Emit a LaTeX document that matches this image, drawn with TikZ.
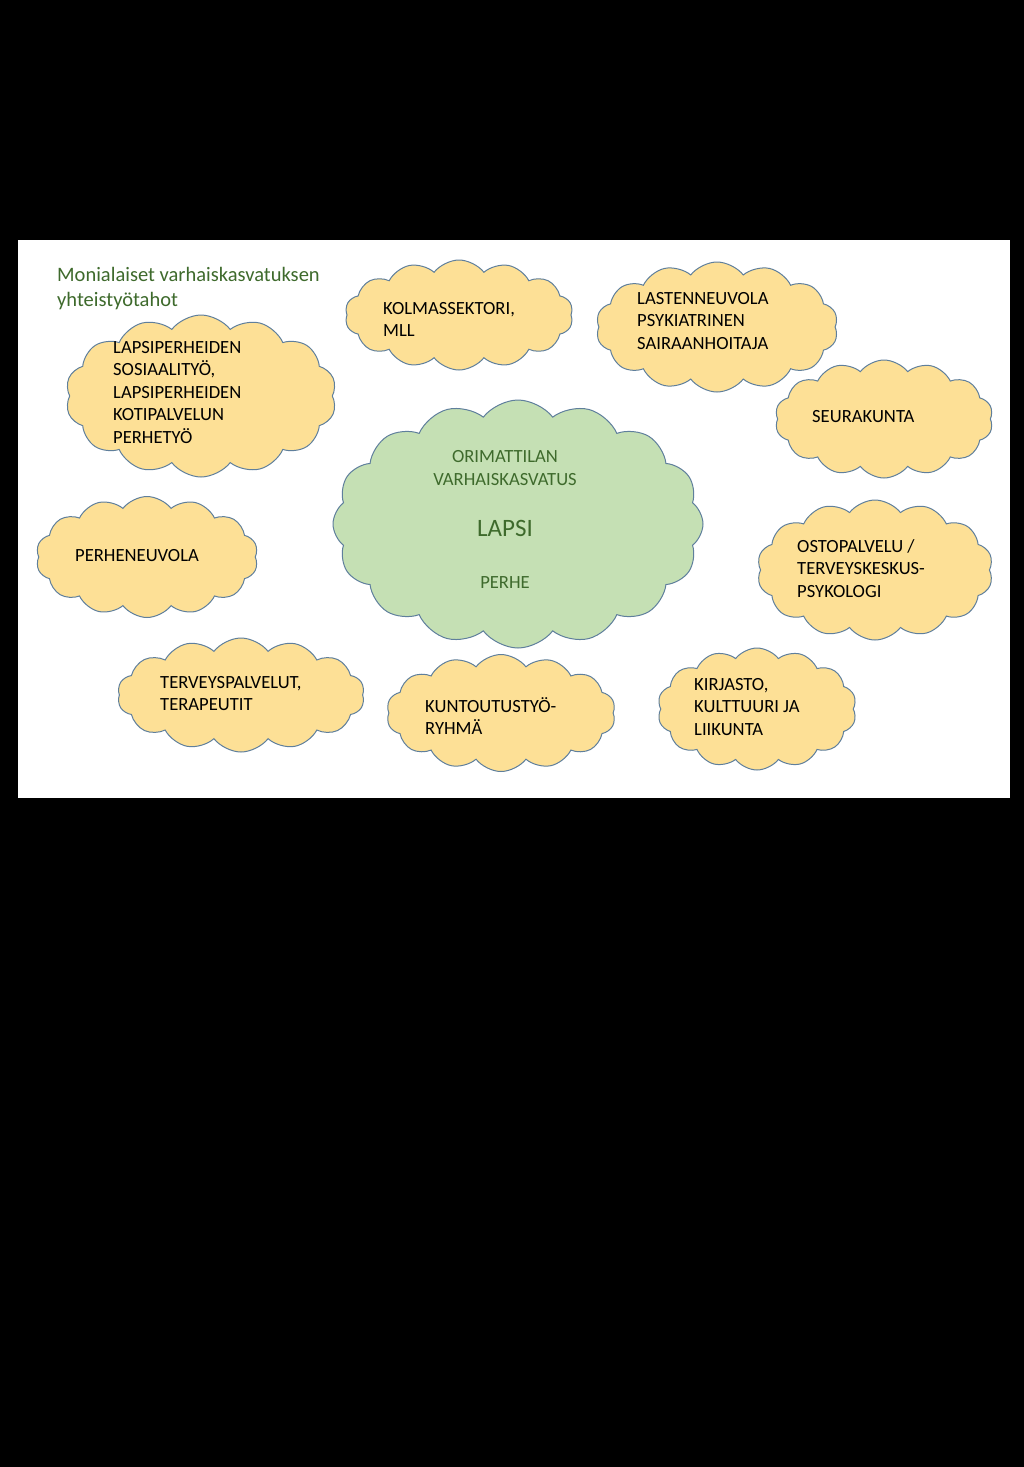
\documentclass[tikz,border=0pt]{standalone}
\usepackage{fontspec}
\setmainfont{Carlito}
\usetikzlibrary{positioning,shapes.symbols}
\definecolor{pilvi}{HTML}{FDE096}
\definecolor{reuna}{HTML}{5F7F9C}
\definecolor{vihrea}{HTML}{C5E0B4}
\definecolor{tummavihrea}{HTML}{3E6A2C}
\tikzset{
  % pilvet
  pilvi/.style={cloud,cloud puffs=14,cloud puff arc=105,cloud ignores aspect,
                draw=reuna,fill=pilvi,line width=1pt,inner sep=0pt},
  keski/.style={pilvi,fill=vihrea,cloud puffs=16},
  % tekstit
  teksti/.style={anchor=north west,align=left,inner sep=0pt,
                 font=\fontsize{18.6}{22.5}\selectfont,text=black},
  vteksti/.style={align=center,inner sep=0pt,
                  font=\fontsize{18.6}{22.5}\selectfont,text=tummavihrea},
}
\begin{document}
\begin{tikzpicture}[x=1pt,y=-1pt]
  \useasboundingbox (0,0) rectangle (1024,1467);
  \fill[black] (0,0) rectangle (1024,1467);
  \fill[white] (18,240) rectangle (1010,798);
  \node[anchor=north west,align=left,inner sep=0pt,text=tummavihrea,
        font=\fontsize{20.5}{25}\selectfont] (otsikko) at (57,267)
        {Monialaiset varhaiskasvatuksen\\yhteistyötahot};
  % pilvet
  \node[pilvi,minimum width=271,minimum height=162] (sos) at (201,396) {};
  \node[pilvi,minimum width=228,minimum height=110] (mll) at (459,315) {};
  \node[pilvi,minimum width=242,minimum height=130] (neuv) at (717,327) {};
  \node[pilvi,minimum width=218,minimum height=118] (seur) at (884,419) {};
  \node[keski,minimum width=370,minimum height=248] (lapsi) at (518,524) {};
  \node[pilvi,minimum width=222,minimum height=121] (pneuv) at (147,557) {};
  \node[pilvi,minimum width=236,minimum height=140] (osto) at (875,570) {};
  \node[pilvi,minimum width=247,minimum height=114] (terv) at (241,695) {};
  \node[pilvi,minimum width=229,minimum height=117] (kunt) at (501,713) {};
  \node[pilvi,minimum width=199,minimum height=122] (kirj) at (757,709) {};
  % tekstit
  \node[teksti] (sosT) at (113,341) {LAPSIPERHEIDEN\\SOSIAALITYÖ,\\LAPSIPERHEIDEN\\KOTIPALVELUN\\PERHETYÖ};
  \node[teksti] (mllT) at (383,302) {KOLMASSEKTORI,\\MLL};
  \node[teksti] (neuvT) at (637,292) {LASTENNEUVOLA\\PSYKIATRINEN\\SAIRAANHOITAJA};
  \node[teksti] (seurT) at (812,410) {SEURAKUNTA};
  \node[vteksti] (orim) at (505,468) {ORIMATTILAN\\VARHAISKASVATUS};
  \node[vteksti,font=\fontsize{25}{28}\selectfont] (lapsiT) at (505,528) {LAPSI};
  \node[vteksti] (perhe) at (505,583) {PERHE};
  \node[teksti] (pneuvT) at (75,549) {PERHENEUVOLA};
  \node[teksti] (ostoT) at (797,539) {OSTOPALVELU /\\TERVEYSKESKUS-\\PSYKOLOGI};
  \node[teksti] (tervT) at (160,676) {TERVEYSPALVELUT,\\TERAPEUTIT};
  \node[teksti] (kuntT) at (425,697) {KUNTOUTUSTYÖ-\\RYHMÄ};
  \node[teksti] (kirjT) at (694,678) {KIRJASTO,\\KULTTUURI JA\\LIIKUNTA};
\end{tikzpicture}
\end{document}
